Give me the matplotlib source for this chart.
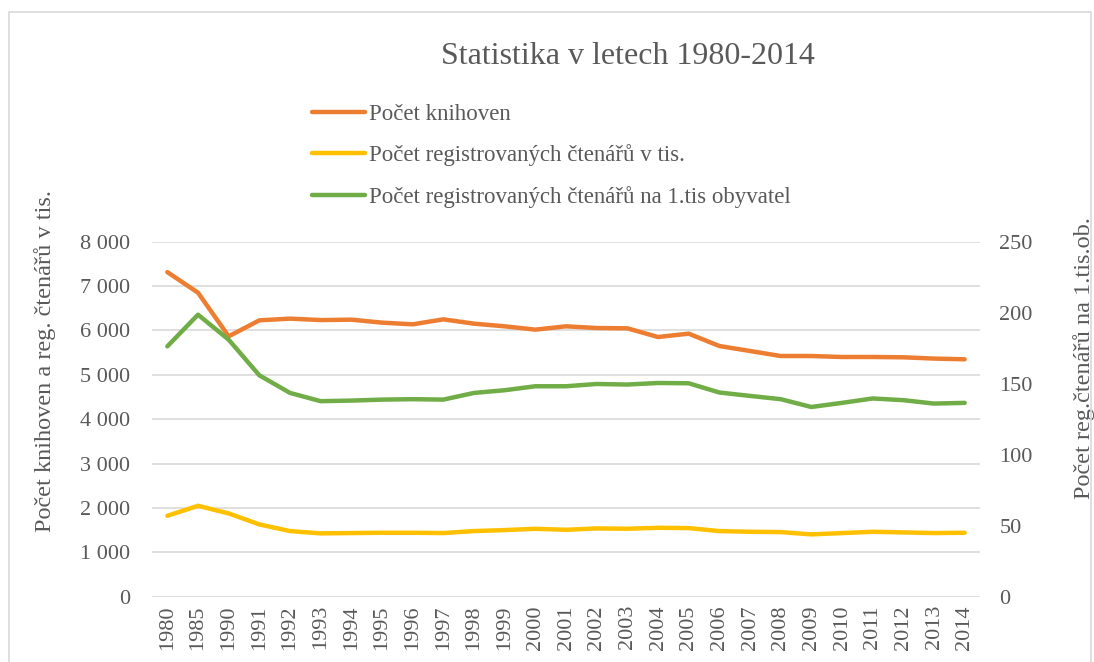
import matplotlib.pyplot as plt
from matplotlib.patches import Rectangle

years = ["1980", "1985", "1990"] + [str(y) for y in range(1991, 2015)]

# Počet knihoven (levá osa)
knihovny = [7315, 6851, 5868, 6228, 6266, 6234, 6243, 6176, 6138, 6250,
            6153, 6093, 6018, 6093, 6055, 6048, 5852, 5928, 5649, 5537,
            5424, 5424, 5402, 5402, 5395, 5366, 5350]

# Počet registrovaných čtenářů v tis. (levá osa)
ctenari = [1823, 2048, 1877, 1629, 1479, 1427, 1434, 1441, 1441, 1434,
           1479, 1501, 1530, 1508, 1539, 1531, 1553, 1546, 1479, 1463,
           1456, 1404, 1434, 1463, 1449, 1434, 1441]

# Počet registrovaných čtenářů na 1 tis. obyvatel (pravá osa)
ctenari_na_tis = [176.3, 198.6, 181.0, 155.9, 143.5, 137.7, 138.1, 138.8,
                  139.1, 138.8, 143.5, 145.4, 148.2, 148.2, 149.8, 149.4,
                  150.5, 150.3, 143.8, 141.4, 139.1, 133.6, 136.5, 139.6,
                  138.4, 136.0, 136.5]

left_ticks = [0, 1000, 2000, 3000, 4000, 5000, 6000, 7000, 8000]
left_ticklabels = ["0", "1 000", "2 000", "3 000", "4 000", "5 000",
                   "6 000", "7 000", "8 000"]
right_ticks = [0, 50, 100, 150, 200, 250]

plt.rcParams['font.family'] = ['Liberation Serif', 'DejaVu Serif']
text_col = '#595959'
grid_col = '#d9d9d9'

fig = plt.figure(figsize=(10.94, 6.62), dpi=100)
fig.patches.append(Rectangle((9 / 1094, -0.01), 1082 / 1094, 1 - 12 / 662 + 0.01,
                             transform=fig.transFigure, fill=False,
                             edgecolor=grid_col, linewidth=1.2))

ax = fig.add_axes([152 / 1094, 65.3 / 662, 828 / 1094, 355 / 662])
ax2 = ax.twinx()

x = list(range(len(years)))
l1, = ax.plot(x, knihovny, color='#ED7D31', lw=3.2, solid_capstyle='round',
              solid_joinstyle='round', label='Počet knihoven')
l2, = ax.plot(x, ctenari, color='#FFC000', lw=3.2, solid_capstyle='round',
              solid_joinstyle='round', label='Počet registrovaných čtenářů v tis.')
l3, = ax2.plot(x, ctenari_na_tis, color='#70AD47', lw=3.2, solid_capstyle='round',
               solid_joinstyle='round',
               label='Počet registrovaných čtenářů na 1.tis obyvatel')

ax.set_xlim(-0.5, len(years) - 0.5)
ax.set_ylim(0, 8000)
ax2.set_ylim(0, 250)
ax.set_yticks(left_ticks)
ax.set_yticklabels(left_ticklabels)
ax2.set_yticks(right_ticks)
ax.set_xticks(x)
ax.set_xticklabels(years, rotation=90)

ax.grid(axis='y', color=grid_col, lw=1.2)
ax.set_axisbelow(True)
for a in (ax, ax2):
    for s in a.spines.values():
        s.set_visible(False)
    a.tick_params(length=0, labelsize=16, colors=text_col)
ax.tick_params(axis='y', pad=16)
ax.tick_params(axis='x', pad=6)
ax2.tick_params(axis='y', pad=14)

ax.set_ylabel('Počet knihoven a reg. čtenářů v tis.', fontsize=17.5,
              color=text_col)
ax.yaxis.set_label_coords(-0.116, 0.664)
ax2.set_ylabel('Počet reg.čtenářů na 1.tis.ob.', fontsize=17.5,
               color=text_col)
ax2.yaxis.set_label_coords(1.112, 0.672)

fig.text(628 / 1094, 1 - 56 / 662, 'Statistika v letech 1980-2014',
         ha='center', va='center', fontsize=23, color=text_col)

fig.legend(handles=[l1, l2, l3], loc='upper left',
           bbox_to_anchor=(303 / 1094, 1 - 95 / 662), frameon=False,
           fontsize=16.5, labelcolor=text_col, handlelength=2.3,
           handletextpad=0.2, labelspacing=0.84, borderaxespad=0)

fig.savefig('out.png', dpi=100)
